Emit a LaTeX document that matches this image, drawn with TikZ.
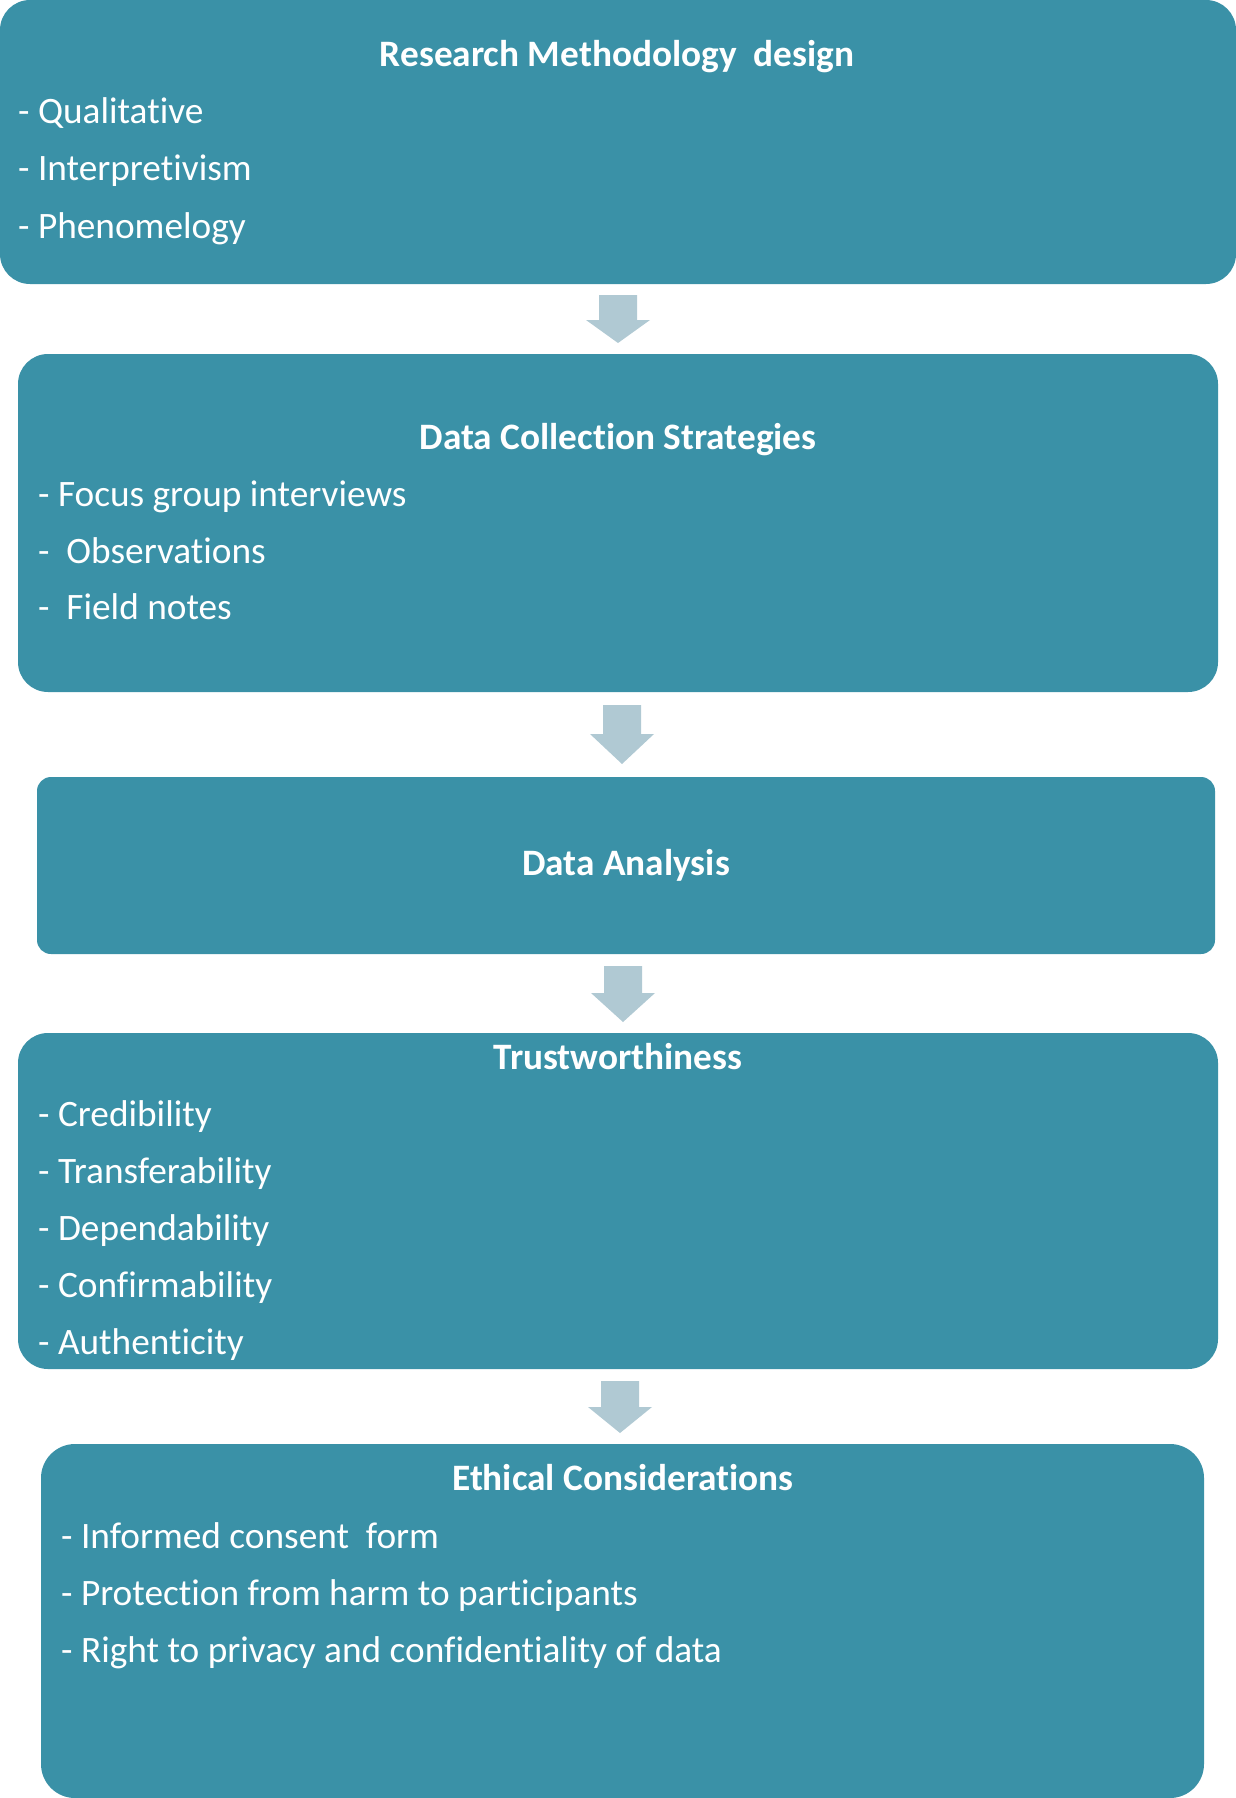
\documentclass[tikz,border=0pt]{standalone}
\usepackage{fontspec}
\setmainfont[Ligatures={NoCommon}]{Carlito}
\definecolor{boxfill}{RGB}{58,145,167}
\definecolor{arrowfill}{RGB}{176,201,211}
\tikzset{
  box/.style={fill=boxfill, draw=none, rounded corners=#1, inner sep=0pt},
  box/.default=30pt,
  title/.style={text=white, font=\fontsize{37.3}{44}\selectfont\bfseries, inner sep=0pt, anchor=base},
  item/.style={text=white, font=\fontsize{37.3}{44}\selectfont, anchor=base west, inner sep=0pt},
  pics/downarrow/.style n args={3}{code={
    \fill[arrowfill] (-19,0) -- (19,0) -- (19,#1) -- (32,#1) -- (0,#2) -- (-32,#1) -- (-19,#1) -- cycle;
  }}
}
\begin{document}
\begin{tikzpicture}[x=1pt,y=-1pt]
\useasboundingbox (0,0) rectangle (1236,1798);
% boxes
\fill[box] (0,0) rectangle (1236,284);
\fill[box] (18,354) rectangle (1218,692);
\fill[box=14pt] (37,777) rectangle (1215,954);
\fill[box] (18,1033) rectangle (1218,1369);
\fill[box=34pt] (41,1444) rectangle (1204,1798);
% texts box 1
\node[title] (t1) at (617,67) {Research Methodology\ \ design};
\node[item] (i11) at (18,124) {- Qualitative};
\node[item] (i12) at (18,181) {- Interpretivism};
\node[item] (i13) at (18,238) {- Phenomelogy};
% box 2
\node[title] (t2) at (618,449) {Data Collection Strategies};
\node[item] (i21) at (38,506) {- Focus group interviews};
\node[item] (i22) at (38,563) {-\ \ Observations};
\node[item] (i23) at (38,619) {-\ \ Field notes};
% box 3
\node[title] (t3) at (626,875) {Data Analysis};
% box 4
\node[title] (t4) at (618,1069) {Trustworthiness};
\node[item] (i41) at (38,1126) {- Credibility};
\node[item] (i42) at (38,1183) {- Transferability};
\node[item] (i43) at (38,1240) {- Dependability};
\node[item] (i44) at (38,1297) {- Confirmability};
\node[item] (i45) at (38,1354) {- Authenticity};
% box 5
\node[title] (t5) at (623,1490) {Ethical Considerations};
\node[item] (i51) at (61,1548) {- Informed consent\ \ form};
\node[item] (i52) at (61,1605) {- Protection from harm to participants};
\node[item] (i53) at (61,1662) {- Right to privacy and confidentiality of data};
% arrows
\pic at (618,295) {downarrow={25}{48}{}};
\pic at (622,705) {downarrow={29}{59}{}};
\pic at (623,966) {downarrow={27}{56}{}};
\pic at (620,1381) {downarrow={26}{52}{}};
\end{tikzpicture}
\end{document}
